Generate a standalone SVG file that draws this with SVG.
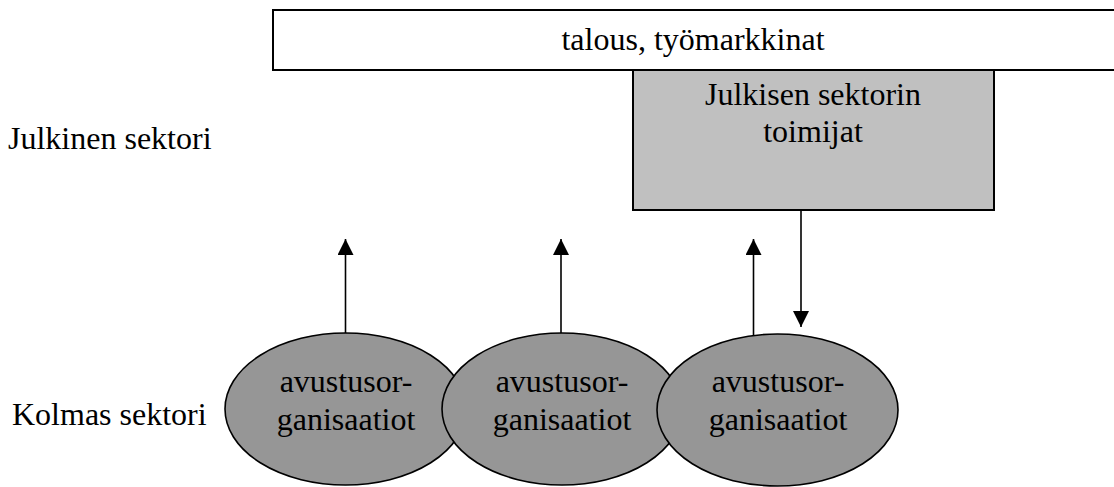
<svg xmlns="http://www.w3.org/2000/svg" width="1114" height="487" viewBox="0 0 1114 487">
<style>
text{font-family:'Liberation Serif','DejaVu Serif',serif;font-size:32px;fill:#000}
.c{text-anchor:middle}
.box{stroke:#000;stroke-width:2}
.ell{fill:#969696;stroke:#000;stroke-width:1.6}
.arr{stroke:#000;stroke-width:1.6;fill:none}
</style>
<defs>
<marker id="ah" markerWidth="16" markerHeight="16" viewBox="0 0 16 16" refX="16" refY="8" orient="auto" markerUnits="userSpaceOnUse">
<path d="M0,0 L16,8 L0,16 Z" fill="#000"/>
</marker>
</defs>
<rect width="1114" height="487" fill="#fff"/>
<g id="label-julkinen"><text x="8" y="149" font-family="Liberation Serif">Julkinen sektori</text></g>
<g id="label-kolmas"><text x="12" y="425" font-family="Liberation Serif">Kolmas sektori</text></g>
<g id="talous">
<rect class="box" x="273" y="10" width="845" height="60" fill="#fff"/>
<text class="c" x="693" y="50" font-family="Liberation Serif">talous, työmarkkinat</text>
</g>
<g id="toimijat">
<rect class="box" x="633" y="70" width="361" height="140" fill="#c0c0c0"/>
<text class="c" x="813" y="105" font-family="Liberation Serif">Julkisen sektorin</text>
<text class="c" x="813" y="142" font-family="Liberation Serif">toimijat</text>
</g>
<g id="org1">
<ellipse class="ell" cx="345.5" cy="409" rx="120.5" ry="76"/>
<text class="c" x="346" y="392" font-family="Liberation Serif">avustusor-</text>
<text class="c" x="346" y="430" font-family="Liberation Serif">ganisaatiot</text>
</g>
<g id="org2">
<ellipse class="ell" cx="562" cy="409" rx="120" ry="76"/>
<text class="c" x="562" y="392" font-family="Liberation Serif">avustusor-</text>
<text class="c" x="562" y="430" font-family="Liberation Serif">ganisaatiot</text>
</g>
<g id="org3">
<ellipse class="ell" cx="777.5" cy="410" rx="120.5" ry="76"/>
<text class="c" x="778" y="392" font-family="Liberation Serif">avustusor-</text>
<text class="c" x="778" y="430" font-family="Liberation Serif">ganisaatiot</text>
</g>
<g id="connectors">
<line class="arr" x1="345.5" y1="333" x2="345.5" y2="239" marker-end="url(#ah)"/>
<line class="arr" x1="561" y1="333" x2="561" y2="239" marker-end="url(#ah)"/>
<line class="arr" x1="753.5" y1="335" x2="753.5" y2="239" marker-end="url(#ah)"/>
<line class="arr" x1="801" y1="211" x2="801" y2="327" marker-end="url(#ah)"/>
</g>
</svg>
